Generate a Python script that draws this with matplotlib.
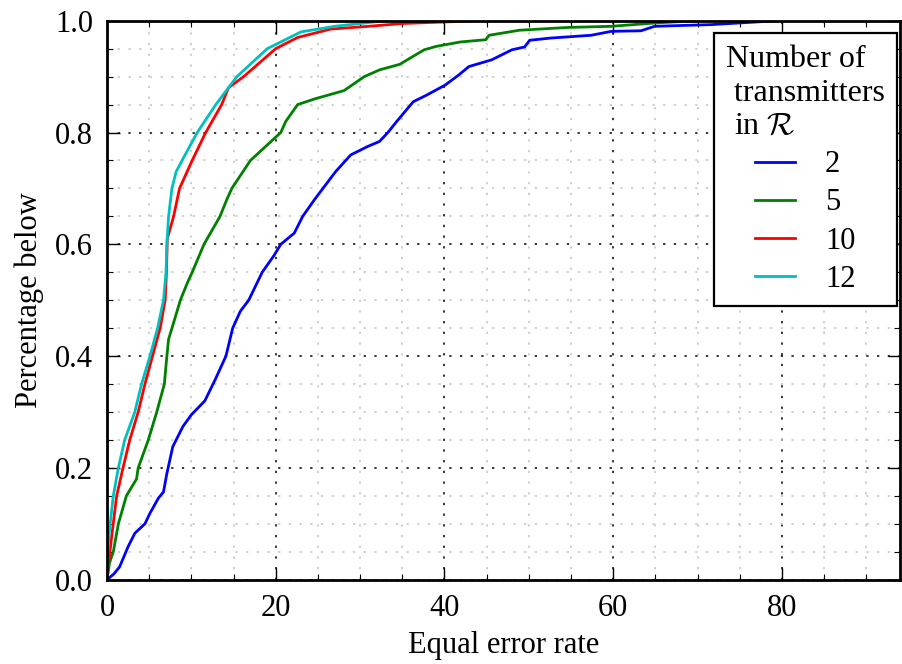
# CDF of equal error rate for different numbers of transmitters

import matplotlib
matplotlib.use("Agg")
import matplotlib.pyplot as plt
from matplotlib.ticker import MultipleLocator

plt.rcParams['font.family'] = ['Liberation Serif', 'DejaVu Serif']
plt.rcParams['mathtext.fontset'] = 'cm'
plt.rcParams['font.size'] = 22

# 1. Data (equal error rate, fraction below)
labels = ['2', '5', '10', '12']
colors = ['b', 'g', 'r', 'c']

eer_2 = [0, 0.8, 1.5, 2.5, 3.3, 4.5, 5.1, 6.1, 6.7, 7.1, 7.8, 9.0, 10.0, 11.6,
         12.8, 14.1, 14.9, 15.8, 16.8, 18.4, 19.8, 20.6, 22.2, 23.2, 24.6, 25.6,
         27.1, 28.3, 28.9, 30.9, 32.3, 33.3, 34.3, 36.3, 37.9, 40.1, 41.7, 42.9,
         45.6, 48.0, 49.5, 50.1, 52.6, 57.4, 59.8, 63.3, 64.9, 71.6, 79.5]
cdf_2 = [0, 0.01, 0.023, 0.059, 0.083, 0.10, 0.119, 0.146, 0.157, 0.19, 0.238,
         0.274, 0.295, 0.32, 0.357, 0.40, 0.45, 0.48, 0.50, 0.55, 0.58, 0.60,
         0.62, 0.65, 0.68, 0.70, 0.73, 0.75, 0.76, 0.775, 0.784, 0.80, 0.819,
         0.855, 0.867, 0.885, 0.903, 0.918, 0.93, 0.948, 0.953, 0.965, 0.969,
         0.974, 0.981, 0.982, 0.99, 0.993, 1.0]

eer_5 = [0, 0.3, 0.75, 1.35, 2.3, 3.5, 3.7, 4.9, 5.9, 6.8, 7.1, 7.3, 7.7, 8.7,
         9.5, 10.1, 11.5, 13.4, 14.2, 14.8, 17.0, 20.6, 21.2, 22.6, 24.6, 28.1,
         30.5, 32.3, 34.7, 37.6, 39.0, 41.9, 44.9, 45.3, 48.9, 54.7, 59.8, 65.0,
         70.0]
cdf_5 = [0, 0.03, 0.05, 0.10, 0.15, 0.18, 0.20, 0.25, 0.30, 0.35, 0.40, 0.43,
         0.45, 0.50, 0.53, 0.55, 0.60, 0.65, 0.68, 0.70, 0.75, 0.80, 0.82, 0.85,
         0.86, 0.875, 0.90, 0.912, 0.922, 0.948, 0.954, 0.962, 0.966, 0.974,
         0.983, 0.988, 0.99, 0.996, 1.0]

eer_10 = [0, 0.2, 0.5, 1.15, 1.9, 2.7, 3.7, 4.5, 5.4, 6.3, 6.9, 7.05, 7.15, 7.9,
          8.6, 10.1, 11.7, 13.6, 14.4, 16.2, 20.0, 22.6, 26.5, 31.0, 35.0, 44.0]
cdf_10 = [0, 0.03, 0.07, 0.15, 0.20, 0.25, 0.30, 0.35, 0.40, 0.45, 0.50, 0.55,
          0.61, 0.65, 0.70, 0.75, 0.80, 0.85, 0.88, 0.90, 0.95, 0.97, 0.985,
          0.99, 0.995, 1.0]

eer_12 = [0, 0.1, 0.3, 0.75, 1.35, 2.1, 3.3, 4.1, 5.1, 6.0, 6.7, 7.0, 7.1, 7.3,
          7.7, 8.2, 8.9, 10.7, 12.9, 15.4, 19.0, 23.0, 27.0, 33.0]
cdf_12 = [0, 0.05, 0.09, 0.15, 0.20, 0.25, 0.30, 0.35, 0.40, 0.45, 0.50, 0.55,
          0.60, 0.65, 0.70, 0.73, 0.75, 0.80, 0.85, 0.90, 0.95, 0.98, 0.99, 1.0]

xs = [eer_2, eer_5, eer_10, eer_12]
ys = [cdf_2, cdf_5, cdf_10, cdf_12]

# 2. Figure
fig = plt.figure(figsize=(9.02, 6.64), dpi=100)
ax = fig.add_axes([0.1186, 0.1270, 0.8792, 0.8418])

for x, y, c, lab in zip(xs, ys, colors, labels):
    ax.plot(x, y, color=c, lw=2.0, label=lab)

ax.set_xlim(0, 94)
ax.set_ylim(0, 1.0)
ax.xaxis.set_major_locator(MultipleLocator(20))
ax.xaxis.set_minor_locator(MultipleLocator(5))
ax.yaxis.set_major_locator(MultipleLocator(0.2))
ax.yaxis.set_minor_locator(MultipleLocator(0.05))
ax.yaxis.set_major_formatter(matplotlib.ticker.FormatStrFormatter('%.1f'))

ax.grid(True, which='major', color='black', linestyle=(0, (1.5, 5.5)), lw=1.1)
ax.grid(True, which='minor', color='#c4c4c4', linestyle=(0, (1.5, 5.5)), lw=1.1)
ax.set_axisbelow(True)

ax.tick_params(which='both', direction='in', top=True, right=True)
ax.tick_params(which='major', length=9, width=1, pad=10)
ax.tick_params(which='minor', length=4.5, width=0.8)
for s in ax.spines.values():
    s.set_linewidth(2)

ax.set_xlabel('Equal error rate', labelpad=6)
ax.set_ylabel('Percentage below', labelpad=8)

# 3. Legend
leg = ax.legend(title='Number of\n transmitters\n in $\\mathcal{R}$',
                loc='upper right', bbox_to_anchor=(0.996, 0.978),
                borderaxespad=0, fancybox=False, framealpha=1,
                handlelength=1.3, handletextpad=1.0, labelspacing=0.3,
                borderpad=0.4, fontsize=22)
leg.get_title().set_fontsize(23)
leg.get_title().set_multialignment('left')
leg.get_frame().set_edgecolor('black')
leg.get_frame().set_linewidth(1.6)

fig.savefig('out.png', dpi=100)
